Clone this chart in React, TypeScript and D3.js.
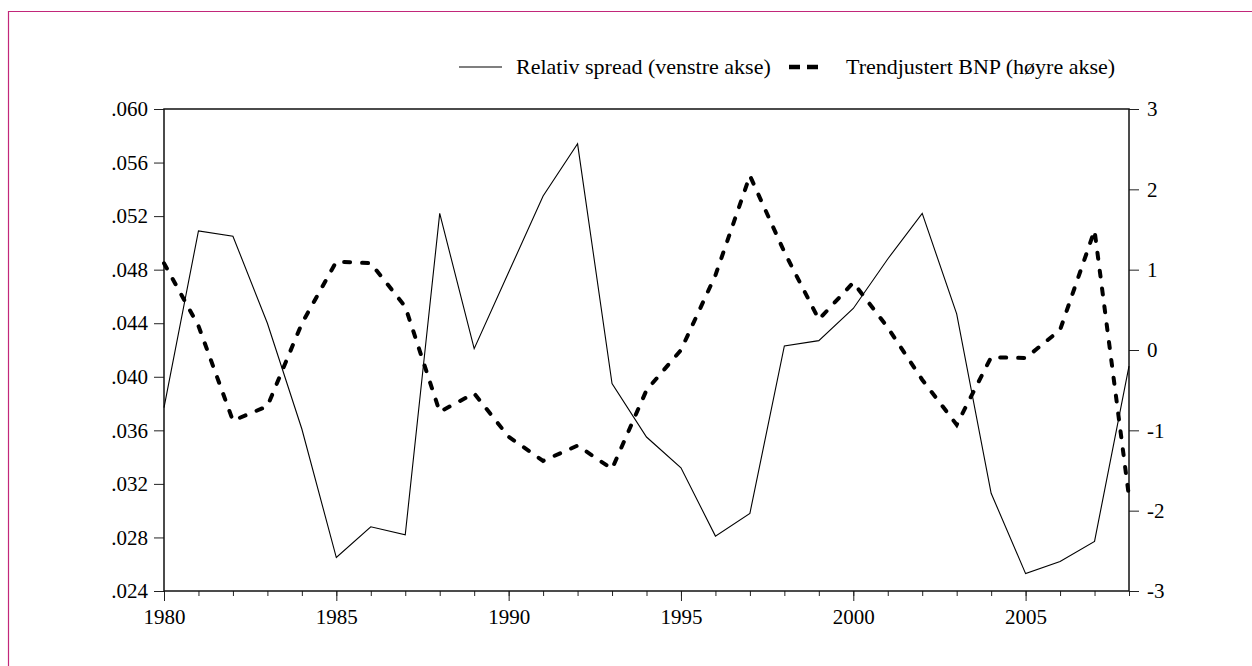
import { useEffect, useRef } from "react"
import * as d3 from "d3"

const years = [
  1980, 1981, 1982, 1983, 1984, 1985, 1986, 1987, 1988, 1989, 1990, 1991, 1992, 1993, 1994,
  1995, 1996, 1997, 1998, 1999, 2000, 2001, 2002, 2003, 2004, 2005, 2006, 2007, 2008,
]

// Relativ spread (venstre akse)
const spread = [
  0.0377, 0.0509, 0.0505, 0.044, 0.0361, 0.0265, 0.0288, 0.0282, 0.0522, 0.0421, 0.0478,
  0.0535, 0.0574, 0.0395, 0.0355, 0.0332, 0.0281, 0.0298, 0.0423, 0.0427, 0.0451, 0.0488,
  0.0522, 0.0447, 0.0313, 0.0253, 0.0262, 0.0277, 0.0408,
]

// Trendjustert BNP (høyre akse)
const bnp = [
  1.08, 0.3, -0.88, -0.7, 0.33, 1.1, 1.08, 0.54, -0.77, -0.54, -1.08, -1.38, -1.19, -1.48,
  -0.5, 0.0, 0.93, 2.17, 1.22, 0.38, 0.84, 0.28, -0.37, -0.93, -0.09, -0.1, 0.25, 1.49, -1.83,
]

const leftTicks = [0.024, 0.028, 0.032, 0.036, 0.04, 0.044, 0.048, 0.052, 0.056, 0.06]
const rightTicks = [-3, -2, -1, 0, 1, 2, 3]
const yearLabels = [1980, 1985, 1990, 1995, 2000, 2005]

const legendItems = [
  { label: "Relativ spread (venstre akse)", dashed: false },
  { label: "Trendjustert BNP (høyre akse)", dashed: true },
]

export default function App() {
  const svgRef = useRef<SVGSVGElement>(null)

  useEffect(() => {
    if (!svgRef.current) return
    const svg = d3.select(svgRef.current)
    svg.selectAll("*").remove()

    const W = 1252
    const H = 666
    const margin = { top: 109, right: 123, bottom: 75, left: 164 }
    const width = W - margin.left - margin.right
    const height = H - margin.top - margin.bottom
    const font = "'Liberation Serif', 'Times New Roman', serif"

    svg.attr("width", W).attr("height", H)

    // page frame (only left and top edges are inside the picture)
    svg
      .append("path")
      .attr("d", `M8.5,${H + 5}V11.5H${W + 5}`)
      .attr("fill", "none")
      .attr("stroke", "#c2277a")
      .attr("stroke-width", 1.2)

    const g = svg.append("g").attr("transform", `translate(${margin.left},${margin.top})`)

    const x = d3.scaleLinear().domain([1980, 2008]).range([0, width])
    const yL = d3.scaleLinear().domain([0.024, 0.06]).range([height, 0])
    const yR = d3.scaleLinear().domain([-3, 3]).range([height, 0])

    // left axis
    const left = g
      .append("g")
      .call(
        d3
          .axisLeft(yL)
          .tickValues(leftTicks)
          .tickSize(10)
          .tickPadding(6)
          .tickFormat((d) => d3.format(".3f")(d as number).replace(/^0/, "")),
      )
    left.select(".domain").remove()

    // right axis
    const right = g
      .append("g")
      .attr("transform", `translate(${width},0)`)
      .call(
        d3
          .axisRight(yR)
          .tickValues(rightTicks)
          .tickSize(10)
          .tickPadding(8)
          .tickFormat((d) => String(d)),
      )
    right.select(".domain").remove()

    // bottom axis: minor ticks every year, major every 5 years
    const bottom = g
      .append("g")
      .attr("transform", `translate(0,${height})`)
      .call(d3.axisBottom(x).tickValues(years).tickSize(5).tickFormat(() => ""))
    bottom.select(".domain").remove()
    const bottomMajor = g
      .append("g")
      .attr("transform", `translate(0,${height})`)
      .call(d3.axisBottom(x).tickValues(yearLabels).tickSize(10).tickPadding(8).tickFormat((d) => String(d)))
    bottomMajor.select(".domain").remove()

    g.selectAll(".tick text")
      .style("font-family", font)
      .style("font-size", "21px")
      .style("fill", "#000")
    g.selectAll(".tick line").attr("stroke", "#222")

    // plot box
    g.append("rect")
      .attr("width", width)
      .attr("height", height)
      .attr("fill", "none")
      .attr("stroke", "#111")
      .attr("stroke-width", 1.5)

    const idx = d3.range(years.length)

    const spreadLine = d3
      .line<number>()
      .x((i) => x(years[i]))
      .y((i) => yL(spread[i]))

    const bnpLine = d3
      .line<number>()
      .x((i) => x(years[i]))
      .y((i) => yR(bnp[i]))

    g.append("path")
      .datum(idx)
      .attr("fill", "none")
      .attr("stroke", "#000")
      .attr("stroke-width", 1.1)
      .attr("d", spreadLine)

    g.append("path")
      .datum(idx)
      .attr("fill", "none")
      .attr("stroke", "#000")
      .attr("stroke-width", 4)
      .attr("stroke-linecap", "round")
      .attr("stroke-dasharray", "6,12")
      .attr("d", bnpLine)

    // legend
    const legendPos = [459, 787]
    const legend = svg
      .selectAll(".legend-item")
      .data(legendItems)
      .enter()
      .append("g")
      .attr("class", "legend-item")
      .attr("transform", (_d, i) => `translate(${legendPos[i]},67)`)

    legend
      .append("line")
      .attr("x1", (d) => (d.dashed ? 2 : 0))
      .attr("x2", (d) => (d.dashed ? 36 : 43))
      .attr("y1", 0)
      .attr("y2", 0)
      .attr("stroke", "#000")
      .attr("stroke-width", (d) => (d.dashed ? 4.5 : 1.1))
      .attr("stroke-dasharray", (d) => (d.dashed ? "11,7" : null))

    legend
      .append("text")
      .attr("x", (d) => (d.dashed ? 59 : 57))
      .attr("y", 7)
      .style("font-family", font)
      .style("font-size", "22px")
      .style("fill", "#000")
      .text((d) => d.label)
  }, [])

  return (
    <div style={{ position: "absolute", left: 0, top: 0, background: "#fff" }}>
      <svg ref={svgRef}></svg>
    </div>
  )
}
